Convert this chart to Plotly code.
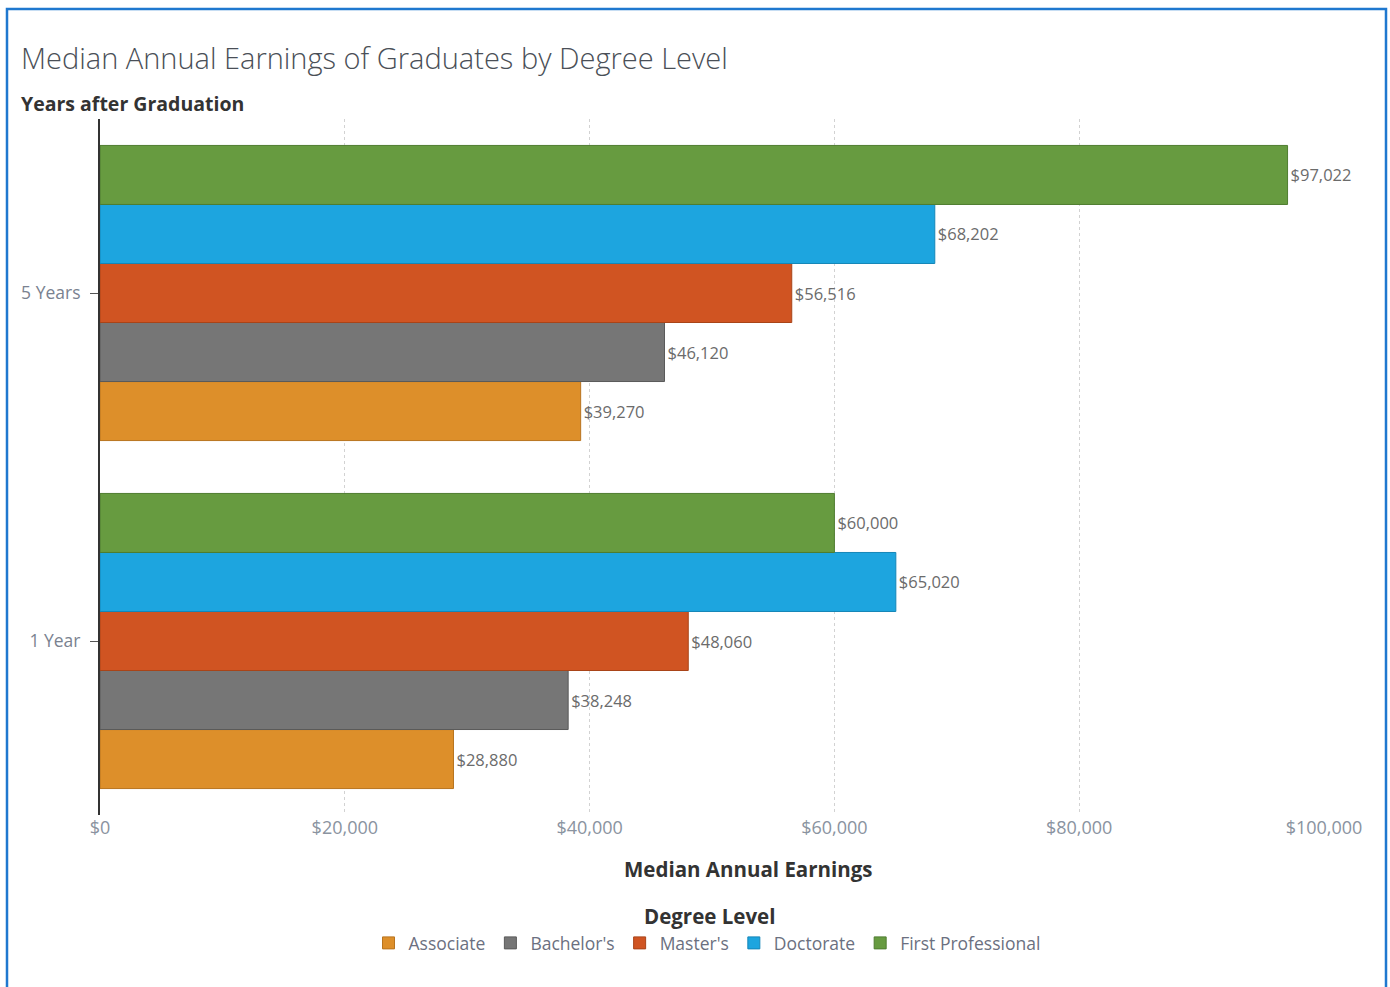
import plotly.graph_objects as go

# Data
years = ["1 Year", "5 Years"]
degrees = ["Associate", "Bachelor's", "Master's", "Doctorate", "First Professional"]
associate = [28880, 39270]
bachelors = [38248, 46120]
masters = [48060, 56516]
doctorate = [65020, 68202]
first_prof = [60000, 97022]
colors = ["#DD8F2A", "#767676", "#D05422", "#1DA5DF", "#679B40"]
edges = ["#B8741F", "#5A5A5A", "#A94418", "#1586B8", "#4F7D30"]
x_ticks = [0, 20000, 40000, 60000, 80000, 100000]
x_tick_labels = ["$0", "$20,000", "$40,000", "$60,000", "$80,000", "$100,000"]

series = [associate, bachelors, masters, doctorate, first_prof]

W, H = 1390, 987
L, R, T, B = 100, 66, 119, 172
pw, ph = W - L - R, H - T - B


def px_x(p):
    return (p - L) / pw


def px_y(p):
    return (H - B - p) / ph


FONT = "Open Sans"

fig = go.Figure()
for name, vals, c, e in zip(degrees, series, colors, edges):
    fig.add_trace(go.Bar(
        y=years, x=vals, name=name, orientation="h",
        marker=dict(color=c, line=dict(color=e, width=1)),
        text=[f"${v:,}" for v in vals], textposition="outside",
        textfont=dict(family=FONT, size=16.5, color="#6b6b6b"),
        cliponaxis=False, hoverinfo="x+name",
    ))

fig.update_layout(
    width=W, height=H,
    margin=dict(l=L, r=R, t=T, b=B),
    paper_bgcolor="white", plot_bgcolor="white",
    barmode="group", bargap=0.152, bargroupgap=0,
    font=dict(family=FONT, color="#555"),
    showlegend=True,
    legend=dict(orientation="h", x=px_x(707), xanchor="center",
                y=px_y(925), yanchor="top",
                font=dict(family=FONT, size=17.5, color="#6b7080"),
                traceorder="normal"),
    xaxis=dict(range=[0, 100000], tickvals=x_ticks, ticktext=x_tick_labels,
               showgrid=True, gridcolor="#d2d2d2", griddash="dot", gridwidth=1,
               zeroline=False, showline=False, ticks="",
               tickfont=dict(family=FONT, size=18, color="#8a93a0")),
    yaxis=dict(type="category", categoryorder="array", categoryarray=years,
               showgrid=False, zeroline=False, showline=True,
               linecolor="#333", linewidth=2, ticks="outside", ticklen=8,
               tickcolor="#555", tickwidth=1, ticklabelstandoff=6,
               tickfont=dict(family=FONT, size=17.5, color="#7a8290")),
)

fig.add_annotation(text="Median Annual Earnings of Graduates by Degree Level",
                   xref="paper", yref="paper", x=px_x(19), y=px_y(57),
                   xanchor="left", yanchor="middle", showarrow=False,
                   font=dict(family=FONT, size=29, color="#4a4f57", weight=300))
fig.add_annotation(text="<b>Years after Graduation</b>",
                   xref="paper", yref="paper", x=px_x(19), y=px_y(104),
                   xanchor="left", yanchor="middle", showarrow=False,
                   font=dict(family=FONT, size=19.5, color="#333"))
fig.add_annotation(text="<b>Median Annual Earnings</b>",
                   xref="paper", yref="paper", x=px_x(748), y=px_y(869),
                   xanchor="center", yanchor="middle", showarrow=False,
                   font=dict(family=FONT, size=20.5, color="#333"))
fig.add_annotation(text="<b>Degree Level</b>",
                   xref="paper", yref="paper", x=px_x(709), y=px_y(916),
                   xanchor="center", yanchor="middle", showarrow=False,
                   font=dict(family=FONT, size=20.5, color="#333"))

# outer frame
fig.add_shape(type="rect", xref="paper", yref="paper",
              x0=px_x(7), x1=px_x(1386), y0=px_y(1000), y1=px_y(9),
              line=dict(color="#1F78CF", width=2.5), fillcolor="rgba(0,0,0,0)",
              layer="above")

fig.write_html("out.html")
